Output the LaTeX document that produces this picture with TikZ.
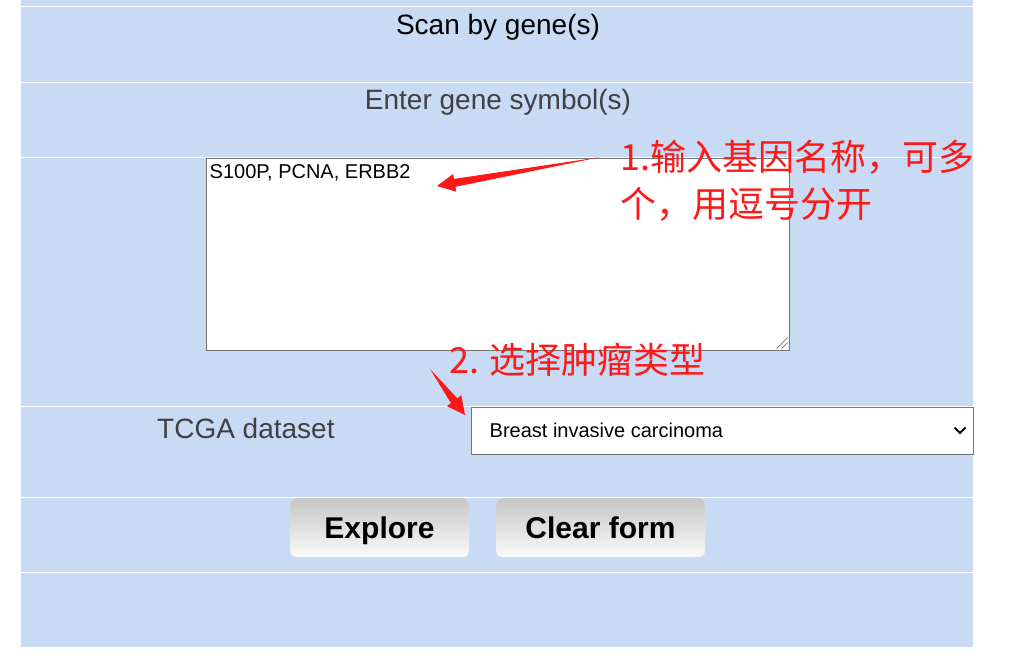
\documentclass[tikz,border=0pt]{standalone}
\usepackage{fontspec}
\setmainfont{Liberation Sans}
\newfontfamily\cjk{Noto Sans CJK SC}
\usetikzlibrary{calc}
\definecolor{panelblue}{RGB}{201,218,245}
\definecolor{labelgray}{RGB}{64,64,64}
\definecolor{boxgray}{RGB}{118,118,118}
\definecolor{notered}{RGB}{255,24,24}
\tikzset{
  rowline/.style={white, line width=1pt},
  formtitle/.style={inner sep=0pt, font=\fontsize{28}{34}\selectfont},
  formlabel/.style={inner sep=0pt, text=labelgray, font=\fontsize{28}{34}\selectfont},
  fieldtext/.style={inner sep=0pt, font=\fontsize{20}{24}\selectfont},
  inputbox/.style={draw=boxgray, fill=white, line width=1pt, inner sep=0pt},
  formbutton/.style={draw=white!80!gray, rounded corners=6pt, minimum height=59,
    text height=21.5pt, text depth=0pt,
    top color={rgb,255:red,198;green,198;blue,198}, bottom color={rgb,255:red,250;green,250;blue,250},
    font=\bfseries\fontsize{30}{36}\selectfont},
  note/.style={inner sep=0pt, text=notered, font=\cjk\fontsize{36}{47}\selectfont},
  annot/.style={fill=notered}
}
\newcommand{\taperarrow}[2]{%
  \coordinate (hb) at ($(#2)!18pt!(#1)$);
  \fill[annot] (#1) -- ($(hb)!4pt!90:(#1)$) -- ($(hb)!9pt!90:(#1)$) -- (#2)
    -- ($(hb)!9pt!-90:(#1)$) -- ($(hb)!4pt!-90:(#1)$) -- cycle;
}
\begin{document}
\begin{tikzpicture}[x=1pt, y=-1pt]
    \useasboundingbox (0,0) rectangle (1025,669);
    % Form panel and row separators
    \fill[panelblue] (21,0) rectangle (973,647);
    \foreach \y in {7,82,157,406,497,572}
        \draw[rowline] (21,\y) -- (973,\y);
    % Headings
    \node[formtitle] (title) at (498,27) {Scan by gene(s)};
    \node[formlabel] (prompt) at (498,102) {Enter gene symbol(s)};
    % Gene input box
    \node[inputbox, minimum width=583, minimum height=192] (genebox) at (497.5,254) {};
    \node[fieldtext, anchor=west] (genes) at ($(genebox.north west)+(4,15)$) {S100P, PCNA, ERBB2};
    \draw[boxgray, line width=0.7pt] ($(genebox.south east)+(-13,-2)$) -- ($(genebox.south east)+(-2,-13)$);
    \draw[boxgray, line width=0.7pt] ($(genebox.south east)+(-8,-2)$) -- ($(genebox.south east)+(-2,-8)$);
    % Dataset selector
    \node[formlabel, anchor=west] (tcga) at (157,428) {TCGA dataset};
    \node[inputbox, minimum width=502, minimum height=47] (dataset) at (722,430.5) {};
    \node[fieldtext, anchor=west] (breast) at ($(dataset.west)+(19,0)$) {Breast invasive carcinoma};
    \draw[line width=1.8pt] ($(dataset.east)+(-19,-3)$) -- ($(dataset.east)+(-13.5,2.5)$) -- ($(dataset.east)+(-8,-3)$);
    % Buttons
    \node[formbutton, minimum width=179] (explore) at (379.5,527.5) {Explore};
    \node[formbutton, minimum width=209] (clear) at (600.5,527.5) {Clear form};
    % Red notes
    \node[note, anchor=west, align=left] (note1) at (620,181) {1.输入基因名称，可多\\个，用逗号分开};
    \node[note, anchor=west] (note2) at (449,360) {2. 选择肿瘤类型};
    \coordinate (tail1) at (601,157);
    \coordinate (tip1) at (437,186);
    \coordinate (tail2) at (430,369);
    \coordinate (tip2) at (465,415);
    \taperarrow{tail1}{tip1}
    \taperarrow{tail2}{tip2}
\end{tikzpicture}
\end{document}
